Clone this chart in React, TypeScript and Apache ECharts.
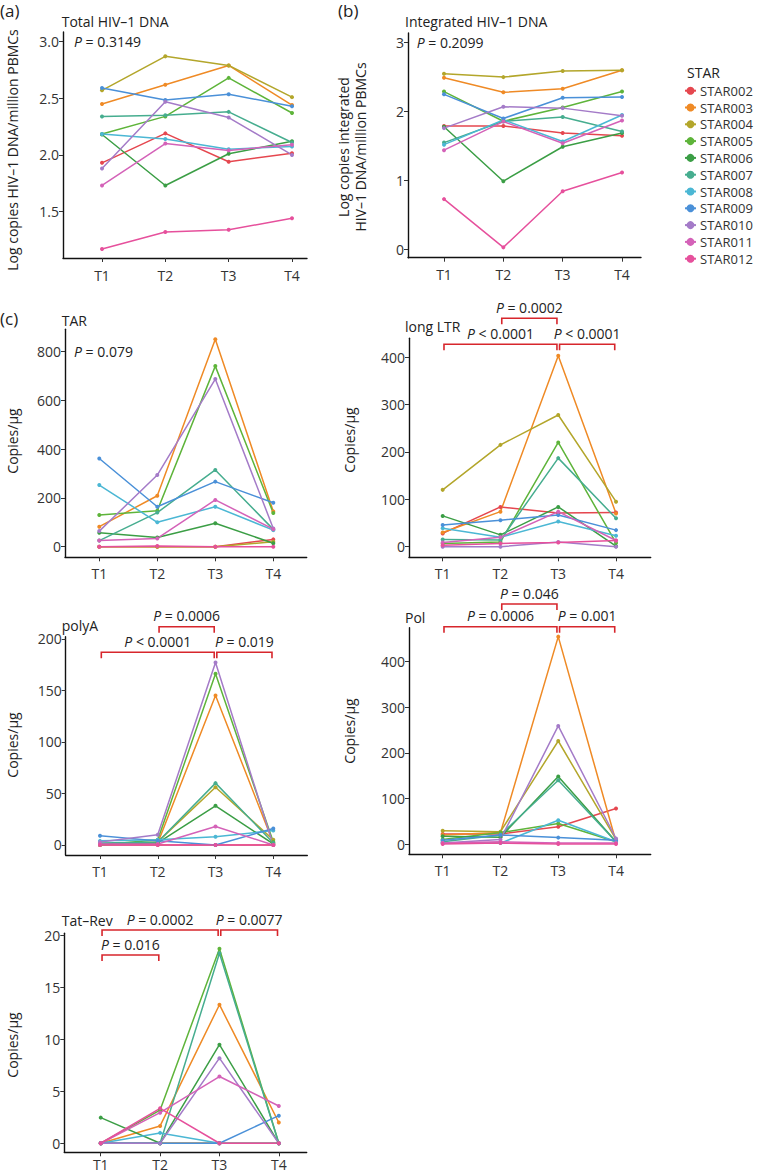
import React, { useEffect, useRef } from "react";
import * as echarts from "echarts";

const timepoints = ["T1", "T2", "T3", "T4"];
const patients = ["STAR002", "STAR003", "STAR004", "STAR005", "STAR006", "STAR007", "STAR008", "STAR009", "STAR010", "STAR011", "STAR012"];
const colors = ["#E5474F", "#EF8A25", "#B3A62B", "#5EB43A", "#3B9E45", "#46AD8F", "#4BB7D4", "#4A90D8", "#A47BC8", "#D462B8", "#E6509C"];

// values per patient (rows, STAR002..STAR012), columns T1..T4
const totalDNA = [
  [1.93, 2.19, 1.94, 2.015],
  [2.45, 2.62, 2.79, 2.44],
  [2.57, 2.87, 2.79, 2.51],
  [2.185, 2.34, 2.68, 2.37],
  [2.18, 1.73, 2.01, 2.12],
  [2.34, 2.35, 2.38, 2.11],
  [2.185, 2.14, 2.05, 2.075],
  [2.59, 2.485, 2.535, 2.43],
  [1.88, 2.47, 2.33, 2.0],
  [1.73, 2.1, 2.04, 2.09],
  [1.17, 1.32, 1.34, 1.44],
];
const integratedDNA = [
  [1.79, 1.79, 1.69, 1.65],
  [2.49, 2.28, 2.33, 2.6],
  [2.55, 2.5, 2.59, 2.6],
  [2.29, 1.86, 2.06, 2.29],
  [1.78, 0.99, 1.49, 1.69],
  [1.55, 1.86, 1.92, 1.71],
  [1.52, 1.88, 1.565, 1.95],
  [2.25, 1.9, 2.2, 2.21],
  [1.76, 2.07, 2.05, 1.94],
  [1.44, 1.855, 1.54, 1.87],
  [0.73, 0.03, 0.845, 1.115],
];
const tarCopies = [
  [0, 0, 0, 30],
  [82, 209, 851, 145],
  [0, 0, 0, 20],
  [130, 148, 741, 138],
  [57, 38, 96, 14],
  [25, 140, 315, 71],
  [253, 100, 164, 68],
  [362, 164, 267, 180],
  [64, 294, 688, 75],
  [25, 34, 192, 72],
  [0, 3, 0, 0],
];
const longLtrCopies = [
  [28, 84, 71, 72],
  [30, 74, 403, 70],
  [120, 215, 278, 95],
  [7, 10, 220, 8],
  [65, 25, 84, 1],
  [15, 14, 187, 60],
  [39, 20, 53, 23],
  [46, 56, 67, 35],
  [0, 0, 10, 0],
  [9, 20, 74, 13],
  [3, 7, 9, 13],
];
const polyACopies = [
  [0, 0, 0, 0],
  [1, 2, 145, 2],
  [0, 3, 56, 5],
  [0, 5, 166, 3],
  [1, 2, 38, 1],
  [2, 3, 60, 2],
  [4, 5, 8, 14],
  [9, 4, 0, 16],
  [3, 10, 177, 0],
  [1, 1, 18, 0],
  [0, 0, 0, 0],
];
const polCopies = [
  [22, 22, 38, 78],
  [20, 25, 455, 5],
  [29, 27, 226, 10],
  [10, 25, 45, 5],
  [17, 15, 148, 5],
  [5, 20, 140, 5],
  [3, 2, 52, 5],
  [8, 20, 14, 8],
  [2, 10, 259, 12],
  [2, 5, 2, 2],
  [0, 2, 0, 0],
];
const tatRevCopies = [
  [0, 0, 0, 0],
  [0, 1.67, 13.35, 2.0],
  [0, 0, 0, 0],
  [0, 3.2, 18.75, 0],
  [2.47, 0, 9.5, 0],
  [0, 0, 18.3, 0],
  [0, 1.0, 0, 0],
  [0, 0, 0, 2.66],
  [0, 0, 8.2, 0],
  [0, 2.95, 6.43, 3.59],
  [0, 3.37, 0, 0],
];

// y tick values
const totalTicks = [1.5, 2.0, 2.5, 3.0];
const integratedTicks = [0, 1, 2, 3];
const tarTicks = [0, 200, 400, 600, 800];
const ltrTicks = [0, 100, 200, 300, 400];
const polyATicks = [0, 50, 100, 150, 200];
const polTicks = [0, 100, 200, 300, 400];
const tatRevTicks = [0, 5, 10, 15, 20];

// significance brackets
const ltrBrackets = [
  { from: 2, to: 3, text: "= 0.0002", row: 0 },
  { from: 1, to: 3, text: "< 0.0001", row: 1 },
  { from: 3, to: 4, text: "< 0.0001", row: 1 },
];
const polyABrackets = [
  { from: 2, to: 3, text: "= 0.0006", row: 0 },
  { from: 1, to: 3, text: "< 0.0001", row: 1 },
  { from: 3, to: 4, text: "= 0.019", row: 1 },
];
const polBrackets = [
  { from: 2, to: 3, text: "= 0.046", row: 0 },
  { from: 1, to: 3, text: "= 0.0006", row: 1 },
  { from: 3, to: 4, text: "= 0.001", row: 1 },
];
const tatRevBrackets = [
  { from: 1, to: 3, text: "= 0.0002", row: 0 },
  { from: 3, to: 4, text: "= 0.0077", row: 0 },
  { from: 1, to: 2, text: "= 0.016", row: 1 },
];

const FONT = '"Open Sans", "Noto Sans", sans-serif';
const TXT = "#333333";

const panels = [
  { data: totalDNA, ticks: totalTicks, dec: 1, box: [63, 32, 307, 258], xr: [0.384, 4.237], yr: [1.09, 3.085], xm: 10 },
  { data: integratedDNA, ticks: integratedTicks, dec: 0, box: [408, 33, 641, 257.7], xr: [0.393, 4.32], yr: [-0.12, 3.14], xm: 10 },
  { data: tarCopies, ticks: tarTicks, dec: 0, box: [65, 329.3, 306.7, 557.3], xr: [0.409, 4.576], yr: [-43.5, 892], xm: 9 },
  { data: longLtrCopies, ticks: ltrTicks, dec: 0, box: [409, 338.3, 650.7, 557.3], xr: [0.417, 4.6], yr: [-22.4, 440], brackets: ltrBrackets, rows: [318.3, 344.3], xm: 9 },
  { data: polyACopies, ticks: polyATicks, dec: 0, box: [65.7, 636.7, 307.3, 855], xr: [0.406, 4.589], yr: [-9.7, 202], brackets: polyABrackets, rows: [626.7, 652.3], xm: 9 },
  { data: polCopies, ticks: polTicks, dec: 0, box: [409, 627.7, 650.7, 854.3], xr: [0.417, 4.6], yr: [-22.6, 474.6], brackets: polBrackets, rows: [604, 626.7], xm: 9 },
  { data: tatRevCopies, ticks: tatRevTicks, dec: 0, box: [64.3, 933.3, 306.7, 1152.3], xr: [0.386, 4.47], yr: [-0.87, 20.23], brackets: tatRevBrackets, rows: [930, 955], xm: 5 },
];

function txt(text: string, x: number, y: number, opts: any = {}) {
  return {
    type: "text",
    x,
    y,
    rotation: opts.rotation || 0,
    silent: true,
    style: {
      text,
      fontSize: opts.fontSize || 14,
      fontFamily: FONT,
      fill: opts.fill || "#222222",
      align: opts.align || "left",
      verticalAlign: "middle",
      lineHeight: opts.lineHeight,
      rich: { i: { fontStyle: "italic", fontSize: opts.fontSize || 14, fontFamily: FONT, fill: opts.fill || "#222222" } },
    },
  };
}

export default function App() {
  const ref = useRef<HTMLDivElement>(null);
  useEffect(() => {
    document.body.style.margin = "0";
    if (!ref.current) return;
    const chart = echarts.init(ref.current, null, { renderer: "svg" });
    const tickVals = [1, 2, 3, 4];
    const option: any = {
      animation: false,
      grid: panels.map((p) => ({
        left: p.box[0],
        top: p.box[1],
        width: p.box[2] - p.box[0],
        height: p.box[3] - p.box[1],
        containLabel: false,
        outerBoundsMode: "none",
      })),
      xAxis: panels.map((p, i) => ({
        type: "value",
        gridIndex: i,
        min: p.xr[0],
        max: p.xr[1],
        splitLine: { show: false },
        axisLine: { show: true, onZero: false, lineStyle: { color: "#111", width: 1.4 } },
        axisTick: { show: true, customValues: tickVals, length: 4, lineStyle: { color: "#333", width: 1 } },
        axisLabel: {
          customValues: tickVals,
          formatter: (v: number) => timepoints[Math.round(v) - 1],
          fontSize: 14,
          fontFamily: FONT,
          color: TXT,
          margin: p.xm,
        },
      })),
      yAxis: panels.map((p, i) => ({
        type: "value",
        gridIndex: i,
        min: p.yr[0],
        max: p.yr[1],
        splitLine: { show: false },
        axisLine: { show: true, onZero: false, lineStyle: { color: "#111", width: 1.4 } },
        axisTick: { show: true, customValues: p.ticks, length: 4, lineStyle: { color: "#333", width: 1 } },
        axisLabel: {
          customValues: p.ticks,
          formatter: (v: number) => v.toFixed(p.dec),
          fontSize: 14,
          fontFamily: FONT,
          color: TXT,
          margin: 4,
        },
      })),
      legend: {
        data: patients,
        orient: "vertical",
        left: 684,
        top: 83.7,
        padding: 0,
        itemWidth: 11,
        itemHeight: 10,
        itemGap: 2.8,
        textStyle: { fontSize: 13, lineHeight: 14, fontFamily: FONT, color: TXT, padding: [0, 0, 0, -1] },
        selectedMode: false,
      },
      series: panels.flatMap((p, i) =>
        p.data.map((vals, j) => ({
          type: "line",
          name: patients[j],
          xAxisIndex: i,
          yAxisIndex: i,
          data: vals.map((v, t) => [t + 1, v]),
          symbol: "circle",
          symbolSize: 4,
          showSymbol: true,
          lineStyle: { width: 1.5, color: colors[j] },
          itemStyle: { color: colors[j] },
          emphasis: { disabled: true },
          silent: true,
        }))
      ),
    };
    chart.setOption(option);

    const graphic: any[] = [
      txt("(a)", 0, 10, { fontSize: 17 }),
      txt("(b)", 338, 10, { fontSize: 17 }),
      txt("(c)", 0, 318, { fontSize: 17 }),
      txt("Total HIV–1 DNA", 61.7, 21.7),
      txt("Integrated HIV–1 DNA", 405, 21.7),
      txt("TAR", 61.7, 320),
      txt("long LTR", 405, 326.7),
      txt("polyA", 61.7, 625.7),
      txt("Pol", 405, 617.3),
      txt("Tat–Rev", 61.7, 920),
      txt("{i|P} = 0.3149", 74, 41.7),
      txt("{i|P} = 0.2099", 416.7, 42.7),
      txt("{i|P} = 0.079", 74, 351.7),
      txt("STAR", 687, 72.7),
      txt("Log copies HIV–1 DNA/million PBMCs", 12.7, 150, { rotation: Math.PI / 2, align: "center" }),
      txt("Log copies integrated\nHIV–1 DNA/million PBMCs", 351.5, 147, { rotation: Math.PI / 2, align: "center", lineHeight: 17 }),
      txt("Copies/µg", 12, 441, { rotation: Math.PI / 2, align: "center" }),
      txt("Copies/µg", 349, 440, { rotation: Math.PI / 2, align: "center" }),
      txt("Copies/µg", 12, 745, { rotation: Math.PI / 2, align: "center" }),
      txt("Copies/µg", 349, 731, { rotation: Math.PI / 2, align: "center" }),
      txt("Copies/µg", 12, 1045, { rotation: Math.PI / 2, align: "center" }),
    ];
    panels.forEach((p: any, i) => {
      if (!p.brackets) return;
      p.brackets.forEach((b: any) => {
        const x1 = (chart.convertToPixel({ xAxisIndex: i } as any, b.from) as number) + 1.3;
        const x2 = (chart.convertToPixel({ xAxisIndex: i } as any, b.to) as number) - 1.3;
        const y = p.rows[b.row];
        graphic.push({
          type: "polyline",
          silent: true,
          shape: { points: [[x1, y + 6], [x1, y], [x2, y], [x2, y + 6]] },
          style: { stroke: "#D7262C", lineWidth: 1.6, fill: null },
        });
        graphic.push(txt("{i|P} " + b.text, (x1 + x2) / 2, y - 11, { align: "center" }));
      });
    });
    chart.setOption({ graphic });
    return () => chart.dispose();
  }, []);
  return <div ref={ref} style={{ width: 757, height: 1176 }} />;
}
